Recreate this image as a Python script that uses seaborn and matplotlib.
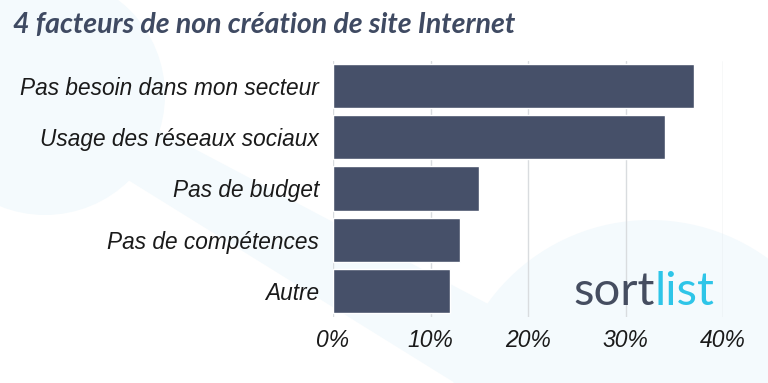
import matplotlib
matplotlib.use('Agg')
import matplotlib.pyplot as plt
import seaborn as sns
import pandas as pd
from matplotlib.patches import Circle, Polygon

# データ
categories = ['Pas besoin dans mon secteur', 'Usage des réseaux sociaux',
              'Pas de budget', 'Pas de compétences', 'Autre']
values = [37, 34, 15, 13, 12]
tick_vals = [0, 10, 20, 30, 40]
tick_labels = ['0%', '10%', '20%', '30%', '40%']

df = pd.DataFrame({'facteur': categories, 'pct': values})

sns.set_style('white')
fig = plt.figure(figsize=(7.68, 3.83), dpi=100)

# 背景の装飾（薄い青の図形）、ピクセル座標で描く
bg_ax = fig.add_axes([0, 0, 1, 1], zorder=-1)
bg_ax.set_xlim(0, 768)
bg_ax.set_ylim(383, 0)
bg_ax.axis('off')
bg = '#f4fafd'
bg_ax.add_patch(Circle((45, 95), 120, facecolor=bg, edgecolor='none'))
bg_ax.add_patch(Polygon([(140, 120), (490, 305), (475, 383), (455, 383), (120, 175)],
                        closed=True, facecolor=bg, edgecolor='none'))
bg_ax.add_patch(Circle((650, 420), 200, facecolor=bg, edgecolor='none'))

ax = fig.add_axes([333 / 768, 1 - 316.5 / 383, 390 / 768, 256 / 383])
ax.patch.set_alpha(0)

sns.barplot(data=df, x='pct', y='facteur', color='#465069', width=0.86,
            saturation=1, ax=ax, zorder=3)

ax.set_xlim(0, 40)
ax.set_ylim(4.5, -0.5)
ax.set_xticks(tick_vals)
ax.set_xticklabels(tick_labels, fontsize=16.5, style='italic',
                   family='Liberation Sans', color='#1a1a1a')
ax.set_yticks(range(len(categories)))
ax.set_yticklabels(categories, fontsize=16.3, style='italic',
                   family='Liberation Sans', color='#1a1a1a')
ax.tick_params(axis='both', length=0)
ax.tick_params(axis='x', pad=9)
ax.tick_params(axis='y', pad=10)
ax.set_xlabel('')
ax.set_ylabel('')
ax.grid(axis='x', color='#d9dcdf', linewidth=1, zorder=0)
for s in ax.spines.values():
    s.set_visible(False)

# タイトル
fig.text(13 / 768, 1 - 25 / 383, '4 facteurs de non création de site Internet',
         fontsize=20.5, family='Lato', style='italic', weight='bold',
         color='#3f4a62', va='center', ha='left')

# ロゴ
t = fig.text(573 / 768, 1 - 292 / 383, 'sort', fontsize=34, family='Lato',
             color='#454d60', va='center', ha='left')
fig.canvas.draw()
bb = t.get_window_extent()
fig.text(bb.x1 / 768, 1 - 292 / 383, 'list', fontsize=34, family='Lato',
         color='#2ec5e8', va='center', ha='left')

fig.savefig('out.png', dpi=100, facecolor='white')
